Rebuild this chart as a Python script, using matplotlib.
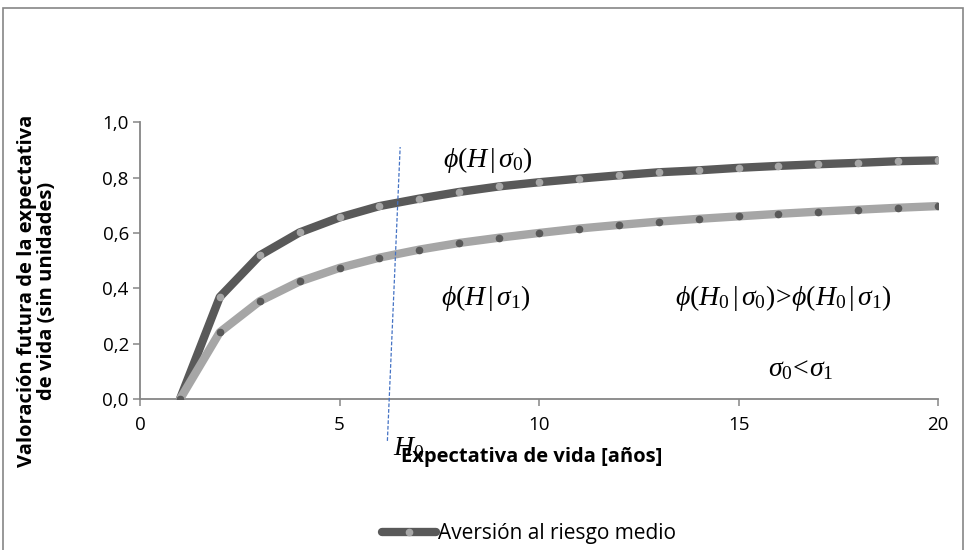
import matplotlib.pyplot as plt
from matplotlib.patches import Rectangle

plt.rcParams["font.family"] = ["Open Sans", "DejaVu Sans"]
plt.rcParams["mathtext.fontset"] = "custom"
plt.rcParams["mathtext.rm"] = "Liberation Serif"
plt.rcParams["mathtext.it"] = "Liberation Serif:italic"

# datos
anos = list(range(1, 21))
sigma0 = [0.0, 0.369, 0.519, 0.602, 0.656, 0.697, 0.724, 0.748, 0.768, 0.783,
          0.796, 0.808, 0.819, 0.826, 0.835, 0.842, 0.848, 0.853, 0.859, 0.862]
sigma1 = [0.0, 0.242, 0.354, 0.425, 0.474, 0.511, 0.540, 0.564, 0.583, 0.600,
          0.616, 0.629, 0.641, 0.651, 0.660, 0.669, 0.677, 0.684, 0.691, 0.697]
h0_x = [6.2, 6.52]
h0_y = [-0.15, 0.91]
yticks = [0.0, 0.2, 0.4, 0.6, 0.8, 1.0]
xticks = [0, 5, 10, 15, 20]

oscuro = "#595959"
claro = "#A6A6A6"
eje = "#868686"

fig = plt.figure(figsize=(9.66, 5.5), dpi=100)
ax = fig.add_axes([0.1449, 0.274, 0.8262, 0.504])

# marco exterior
fig.patches.append(Rectangle((0.003, -0.1), 0.994, 1.085, transform=fig.transFigure,
                             fill=False, edgecolor=eje, linewidth=1.2))

ax.plot(anos, sigma0, color=oscuro, linewidth=6, solid_capstyle="round",
        marker="o", markersize=4.5, markerfacecolor=claro, markeredgecolor=claro,
        label="Aversión al riesgo medio", zorder=3)
ax.plot(anos, sigma1, color=claro, linewidth=6, solid_capstyle="round",
        marker="o", markersize=4.5, markerfacecolor=oscuro, markeredgecolor=oscuro,
        zorder=4)

ax.plot(h0_x, h0_y, color="#4472C4", linewidth=0.9, linestyle=(0, (3, 1.5)),
        clip_on=False, zorder=5)

ax.set_xlim(0, 20)
ax.set_ylim(0, 1.0)
ax.set_xticks(xticks)
ax.set_yticks(yticks)
ax.set_yticklabels([f"{v:.1f}".replace(".", ",") for v in yticks])
for s in ["top", "right"]:
    ax.spines[s].set_visible(False)
for s in ["left", "bottom"]:
    ax.spines[s].set_color(eje)
    ax.spines[s].set_linewidth(1.3)
ax.tick_params(axis="both", colors=eje, labelcolor="#000000", labelsize=13.5,
               length=5, width=1.1)
ax.tick_params(axis="x", pad=7)
ax.tick_params(axis="y", pad=3)

ax.set_xlabel("Expectativa de vida [años]", fontsize=14.5, fontweight="bold")
ax.xaxis.set_label_coords(0.491, -0.172)
ax.set_ylabel("Valoración futura de la expectativa\nde vida (sin unidades)",
              fontsize=14.5, fontweight="bold", linespacing=1.0)
ax.yaxis.set_label_coords(-0.104, 0.39)

ax.text(6.33, -0.175, r"$H_{\mathit{0}}$", fontsize=20, ha="left", va="center", clip_on=False)
ax.text(7.6, 0.865, r"$\phi(H\,|\,\sigma_{\mathit{0}})$", fontsize=20, ha="left", va="center")
ax.text(7.55, 0.365, r"$\phi(H\,|\,\sigma_{\mathit{1}})$", fontsize=20, ha="left", va="center")
ax.text(13.4, 0.365,
        r"$\phi(H_{\mathit{0}}\,|\,\sigma_{\mathit{0}})\!>\!\phi(H_{\mathit{0}}\,|\,\sigma_{\mathit{1}})$",
        fontsize=20, ha="left", va="center")
ax.text(15.75, 0.11, r"$\sigma_{\mathit{0}}\!<\!\sigma_{\mathit{1}}$", fontsize=20,
        ha="left", va="center")

fig.legend(loc="center", bbox_to_anchor=(0.548, 0.03), frameon=False, fontsize=15,
           handlelength=2.6, handletextpad=0.1)

fig.savefig("out.png", dpi=100)
